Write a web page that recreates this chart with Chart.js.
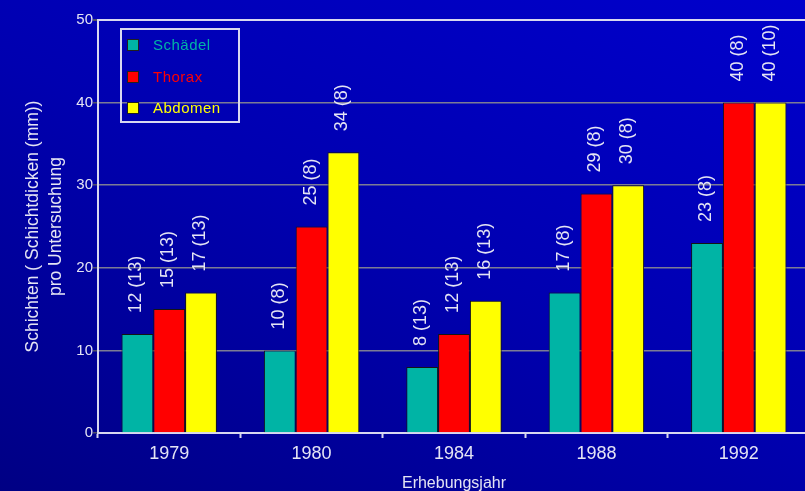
<!DOCTYPE html>
<html>
<head>
<meta charset="utf-8">
<script src="https://cdn.jsdelivr.net/npm/chart.js@4"></script>
<style>
    html, body { margin: 0; padding: 0; overflow: hidden; }
    body {
        width: 805px; height: 491px;
        background: linear-gradient(25deg, #000084 0%, #0000b0 50%, #0000cc 100%);
        font-family: Arial, "Liberation Sans", sans-serif;
    }
    #wrap { position: relative; width: 812px; height: 491px; }
    #legend {
        position: absolute; left: 120px; top: 28px; width: 116px; height: 91px;
        border: 2px solid #d8d8f0;
    }
    .item { position: absolute; left: 0; height: 20px; font-size: 15px; line-height: 20px; }
    .item span.box {
        position: absolute; left: 5px; top: 4px; width: 10px; height: 10px;
        border: 1px solid #202020;
    }
    .item span.txt { position: absolute; left: 31px; top: 0; white-space: nowrap; letter-spacing: 0.5px; }
</style>
</head>
<body>
<div id="wrap">
    <canvas id="chart" width="812" height="491"></canvas>
    <div id="legend"></div>
</div>
<script>
// Data
const years = ['1979', '1980', '1984', '1988', '1992'];
const seriesNames = ['Schädel', 'Thorax', 'Abdomen'];
const schaedel = [12, 10, 8, 17, 23];
const thorax = [15, 25, 12, 29, 40];
const abdomen = [17, 34, 16, 30, 40];
// number of examinations shown in brackets
const nSchaedel = [13, 8, 13, 8, 8];
const nThorax = [13, 8, 13, 8, 8];
const nAbdomen = [13, 8, 13, 8, 10];
const seriesColors = ['#00b4a5', '#ff0000', '#ffff00'];

const textColor = '#e4e4f4';

// Rotated value labels above the bars
const barLabels = {
    id: 'barLabels',
    afterDatasetsDraw(chart) {
        const ctx = chart.ctx;
        ctx.save();
        ctx.font = '18px Arial, "Liberation Sans"';
        ctx.fillStyle = textColor;
        ctx.textAlign = 'left';
        ctx.textBaseline = 'middle';
        chart.data.datasets.forEach((ds, di) => {
            const meta = chart.getDatasetMeta(di);
            meta.data.forEach((bar, i) => {
                const txt = ds.data[i] + ' (' + ds.counts[i] + ')';
                ctx.save();
                ctx.translate(bar.x - 1, bar.y - 21);
                ctx.rotate(-Math.PI / 2);
                ctx.fillText(txt, 0, 0);
                ctx.restore();
            });
        });
        ctx.restore();
    }
};

const ctx = document.getElementById('chart').getContext('2d');
const chart = new Chart(ctx, {
    type: 'bar',
    data: {
        labels: years,
        datasets: [
            { label: seriesNames[0], data: schaedel, counts: nSchaedel, backgroundColor: seriesColors[0] },
            { label: seriesNames[1], data: thorax, counts: nThorax, backgroundColor: seriesColors[1] },
            { label: seriesNames[2], data: abdomen, counts: nAbdomen, backgroundColor: seriesColors[2] }
        ].map(d => Object.assign(d, {
            borderColor: '#141414',
            borderWidth: 1,
            barPercentage: 1,
            categoryPercentage: 0.67
        }))
    },
    options: {
        responsive: false,
        animation: false,
        layout: { padding: { top: 20, right: 2, left: 0, bottom: 0 } },
        plugins: {
            legend: { display: false },
            tooltip: { enabled: false }
        },
        scales: {
            x: {
                grid: {
                    offset: true,
                    drawOnChartArea: false,
                    drawTicks: true,
                    tickLength: 5,
                    tickColor: '#d8d8f0',
                    tickWidth: 2
                },
                border: { color: '#d8d8f0', width: 2 },
                ticks: { color: textColor, font: { size: 18 }, padding: 5 },
                title: {
                    display: true,
                    text: 'Erhebungsjahr',
                    color: textColor,
                    font: { size: 16 },
                    padding: { top: 0, bottom: -2 }
                },
                afterFit(scale) { scale.height = 58; }
            },
            y: {
                min: 0,
                max: 50,
                ticks: { stepSize: 10, color: textColor, font: { size: 15 }, padding: 0 },
                grid: {
                    color: c => c.tick.value === 50 ? '#d8d8f0' : '#7c7c94',
                    lineWidth: c => c.tick.value === 50 ? 2 : 1.5,
                    tickLength: 5,
                    tickColor: '#50506a'
                },
                border: { color: '#d8d8f0', width: 2 },
                title: {
                    display: true,
                    text: ['Schichten ( Schichtdicken (mm))', 'pro Untersuchung'],
                    color: textColor,
                    font: { size: 17.5, lineHeight: 1.3 },
                    padding: { top: 22, bottom: 0 }
                },
                afterFit(scale) { scale.width = 98; }
            }
        }
    },
    plugins: [barLabels]
});

// Legend box
const legendEl = document.getElementById('legend');
const itemTops = [5, 37, 68];
chart.data.datasets.forEach((ds, i) => {
    const item = document.createElement('div');
    item.className = 'item';
    item.style.top = itemTops[i] + 'px';
    item.innerHTML = '<span class="box" style="background:' + ds.backgroundColor + '"></span>' +
        '<span class="txt" style="color:' + ds.backgroundColor + '">' + ds.label + '</span>';
    legendEl.appendChild(item);
});
</script>
</body>
</html>
